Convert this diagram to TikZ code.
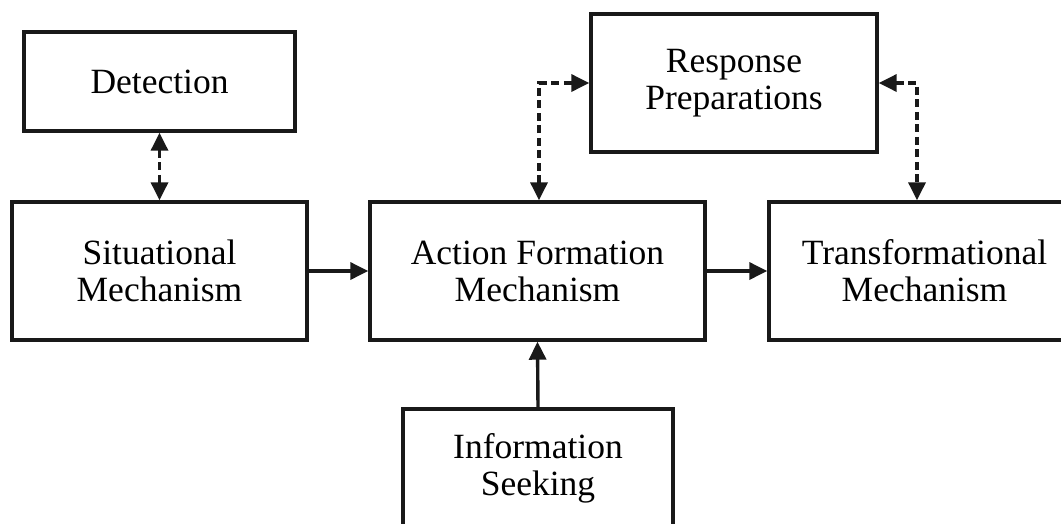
\documentclass[tikz,border=0pt]{standalone}
\usepackage{fontspec}
\setmainfont{Liberation Serif}
\usetikzlibrary{arrows.meta}

\begin{document}
\begin{tikzpicture}[x=1pt,y=-1pt,
  box/.style={draw=black!90, line width=3.4pt, fill=white, align=center,
    inner sep=0pt, font=\fontsize{35.5}{37}\selectfont},
  link/.style={draw=black!90, line width=3.4pt,
    -{Triangle[length=18pt,width=17pt]}},
  duplex/.style={draw=black!90, line width=3.4pt, dash pattern=on 8pt off 4.5pt,
    {Triangle[length=18pt,width=17pt]}-{Triangle[length=18pt,width=17pt]}}]
  \useasboundingbox (0,0) rectangle (1061,523);
  \clip (0,0) rectangle (1061,523);

  \node[box, minimum width=271pt, minimum height=99pt] (det) at (159.5,81.5) {\raisebox{-6pt}{Detection}};
  \node[box, minimum width=286pt, minimum height=138pt] (resp) at (734,83) {Response\\Preparations};
  \node[box, minimum width=295pt, minimum height=138pt] (sit) at (159.5,271) {Situational\\Mechanism};
  \node[box, minimum width=335pt, minimum height=138pt] (act) at (537.5,271) {Action Formation\\Mechanism};
  \node[box, minimum width=311pt, minimum height=138pt] (trans) at (924.5,271) {Transformational\\Mechanism};
  \node[box, minimum width=270pt, minimum height=118pt] (info) at (538,468) {Information\\Seeking};

  % two-way dashed links
  \draw[duplex] (det.south) -- (sit.north);
  \draw[duplex] ([xshift=1.5pt]act.north) |- (resp.west);
  \draw[duplex] (resp.east) -| ([xshift=-7.5pt]trans.north);

  % one-way solid links
  \draw[link] (sit.east) -- (act.west);
  \draw[link] (act.east) -- (trans.west);
  \draw[link] (info.north) -- (act.south);
\end{tikzpicture}
\end{document}
